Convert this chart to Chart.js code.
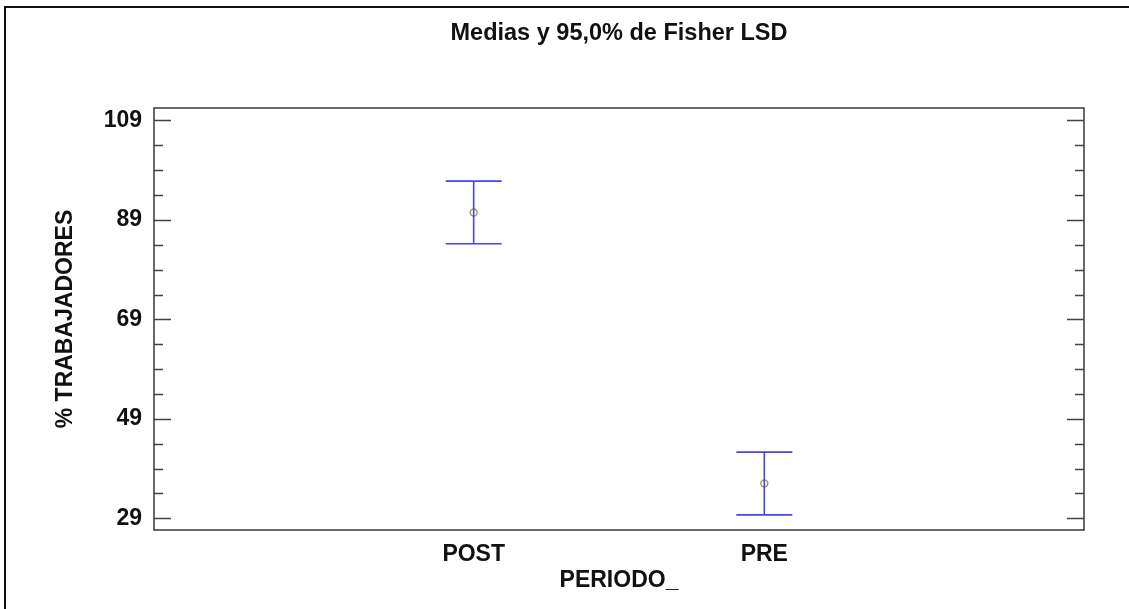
<!DOCTYPE html>
<html>
<head>
<meta charset="utf-8">
<script src="https://cdn.jsdelivr.net/npm/chart.js@4"></script>
<style>
  html, body { margin: 0; padding: 0; background: #fff; }
  #wrap { width: 1129px; height: 609px; position: relative; }
</style>
</head>
<body>
<div id="wrap"><canvas id="c" width="1129" height="609"></canvas></div>
<script>
// Means with 95% Fisher LSD intervals per period
const categories = ['POST', 'PRE'];
const means = [90.5, 36.0];
const lower = [84.2, 29.7];
const upper = [96.8, 42.3];

// Y axis: labelled ticks and unlabelled minor ticks
const yMajor = [29, 49, 69, 89, 109];
const yMinor = [34, 39, 44, 54, 59, 64, 74, 79, 84, 94, 99, 104];

const TITLE = 'Medias y 95,0% de Fisher LSD';
const BLUE = '#4646e4';
const MEAN = '#9a9a58';
const FONT = { family: '"Liberation Sans", Arial, sans-serif', size: 23, weight: 'bold' };

const xPos = categories.map((_, i) => i);

// Frame, inner tick marks and page border
const framePlugin = {
  id: 'frame',
  beforeDraw(chart) {
    const ctx = chart.ctx;
    ctx.save();
    ctx.fillStyle = '#111';
    ctx.fillRect(4, 6, 1125, 2);
    ctx.fillRect(4, 6, 2, 603);
    ctx.restore();
  },
  beforeDatasetsDraw(chart) {
    const { ctx, chartArea: a, scales: { y } } = chart;
    ctx.save();
    ctx.strokeStyle = '#444';
    ctx.lineWidth = 1.6;
    ctx.strokeRect(a.left, a.top, a.right - a.left, a.bottom - a.top);
    y.ticks.forEach(t => {
      const py = Math.round(y.getPixelForValue(t.value)) + 0.5;
      const len = yMajor.includes(t.value) ? 17 : 9;
      ctx.beginPath();
      ctx.moveTo(a.left, py); ctx.lineTo(a.left + len, py);
      ctx.moveTo(a.right, py); ctx.lineTo(a.right - len, py);
      ctx.stroke();
    });
    ctx.restore();
  }
};

const whiskers = xPos.map((x, i) => ({
  type: 'line',
  data: [{ x, y: lower[i] }, { x, y: upper[i] }],
  borderColor: BLUE,
  borderWidth: 1.6,
  pointRadius: 0,
  showLine: true
}));

new Chart(document.getElementById('c'), {
  type: 'scatter',
  data: {
    datasets: [
      ...whiskers,
      {
        data: xPos.flatMap((x, i) => [{ x, y: lower[i] }, { x, y: upper[i] }]),
        pointStyle: 'line',
        pointRadius: 28,
        borderColor: BLUE,
        borderWidth: 1.6
      },
      {
        data: xPos.map((x, i) => ({ x, y: means[i] })),
        pointStyle: 'circle',
        pointRadius: 3.5,
        borderColor: MEAN,
        backgroundColor: 'rgba(0,0,0,0)',
        borderWidth: 1.4
      }
    ]
  },
  options: {
    responsive: false,
    animation: false,
    events: [],
    layout: { padding: { left: 0, right: 45, top: 0, bottom: 0 } },
    plugins: {
      legend: { display: false },
      tooltip: { enabled: false },
      title: { display: false }
    },
    scales: {
      // top axis carries the chart title, centred over the plot area
      top: {
        type: 'linear',
        position: 'top',
        min: -1.1,
        max: 2.1,
        afterBuildTicks: s => { s.ticks = []; },
        afterFit: s => { s.height = 108; },
        grid: { display: false, drawTicks: false },
        border: { display: false },
        ticks: { display: false },
        title: {
          display: true,
          text: TITLE,
          color: '#111',
          font: { ...FONT, size: 23.5 },
          padding: { top: 19, bottom: 0 }
        }
      },
      x: {
        type: 'linear',
        position: 'bottom',
        min: -1.1,
        max: 2.1,
        afterBuildTicks: s => { s.ticks = xPos.map(v => ({ value: v })); },
        afterFit: s => { s.height = 79; },
        grid: { display: false, drawTicks: false },
        border: { display: false },
        ticks: {
          color: '#111',
          font: FONT,
          padding: 11,
          callback: v => categories[v]
        },
        title: {
          display: true,
          text: 'PERIODO_',
          color: '#111',
          font: FONT,
          padding: { top: 0, bottom: 15 }
        }
      },
      y: {
        min: 26.65,
        max: 111.5,
        afterBuildTicks: s => {
          s.ticks = [...yMajor, ...yMinor].sort((a, b) => a - b).map(v => ({ value: v }));
        },
        afterFit: s => { s.width = 154; },
        grid: { display: false, drawTicks: false },
        border: { display: false },
        ticks: {
          color: '#111',
          font: FONT,
          padding: 12,
          autoSkip: false,
          callback: v => yMajor.includes(v) ? String(v) : ''
        },
        title: {
          display: true,
          text: '% TRABAJADORES',
          color: '#111',
          font: FONT,
          padding: { top: 52, bottom: 0 }
        }
      }
    }
  },
  plugins: [framePlugin]
});
</script>
</body>
</html>
